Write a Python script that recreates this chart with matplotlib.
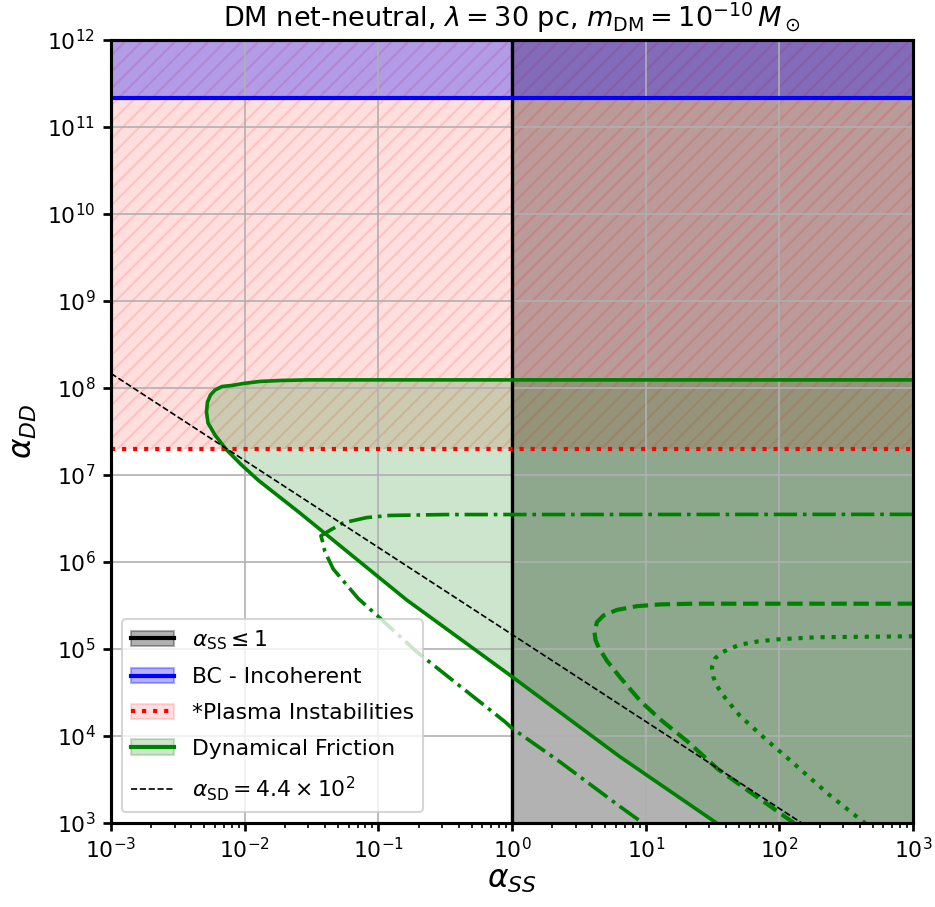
import numpy as np
import matplotlib
matplotlib.use("Agg")
import matplotlib.pyplot as plt
from matplotlib.patches import Patch
from matplotlib.lines import Line2D
from matplotlib.ticker import NullLocator

# limits of the plot
x_lim = [1e-3, 1e3]
y_lim = [1e3, 1e12]

# horizontal / vertical bounds
bc_incoherent = 2.15e11
plasma_limit = 2.0e7
ss_limit = 1.0

# alpha_SD line
sd_x = [1e-3, 1e3]
sd_y = [1.47e8, 1.47e2]

# dynamical friction boundary (solid)
df_x = [1e3, 3.0e-2, 1.84e-2, 1.30e-2, 9.89e-3, 8.03e-3, 6.76e-3, 6.0e-3, 5.55e-3,
        5.27e-3, 5.18e-3, 5.32e-3, 6.0e-3, 7.33e-3, 9.5e-3, 1.265e-2, 2.59e-2,
        6.31e-2, 1.63e-1, 3.98e-1, 1.0, 6.41, 33.9, 63.0]
df_y = [1.24e8, 1.24e8, 1.22e8, 1.19e8, 1.13e8, 1.07e8, 1.04e8, 9.48e7, 8.32e7,
        6.90e7, 5.30e7, 3.96e7, 2.88e7, 1.94e7, 1.30e7, 8.7e6, 3.66e6,
        1.2e6, 3.66e5, 1.35e5, 4.81e4, 5.78e3, 1.0e3, 5.25e2]

# dash-dot curve
dd_x = [1e3, 0.316, 0.122, 0.0817, 0.0546, 0.044, 0.0372, 0.0383, 0.0398, 0.046,
        0.0708, 0.1028, 0.193, 0.885, 1.0, 2.28, 6.41, 9.7, 15.8]
dd_y = [3.53e6, 3.51e6, 3.43e6, 3.24e6, 2.82e6, 2.34e6, 2.0e6, 1.71e6, 1.32e6, 8.3e5,
        3.8e5, 2.27e5, 9.33e4, 1.46e4, 1.23e4, 5.05e3, 1.55e3, 9.8e2, 5.9e2]

# dashed curve
da_x = [1e3, 23.1, 13.0, 8.65, 6.11, 4.84, 4.32, 4.14, 4.22, 4.45, 5.14, 6.47, 9.16,
        12.97, 20.6, 34.8, 65.8, 131.5]
da_y = [3.32e5, 3.32e5, 3.26e5, 3.11e5, 2.82e5, 2.43e5, 2.04e5, 1.556e5, 1.26e5,
        1.04e5, 7.29e4, 4.68e4, 2.51e4, 1.535e4, 8.63e3, 4.15e3, 2.07e3, 9.77e2]

# dotted curve
do_x = [1e3, 398, 189.7, 134.6, 96.8, 69.8, 50.7, 43.4, 37.3, 33.1, 31.3, 32.0, 34.0,
        37.2, 41.2, 45.7, 50.7, 79.4, 119.7, 236.6, 444.6]
do_y = [1.40e5, 1.38e5, 1.365e5, 1.327e5, 1.291e5, 1.225e5, 1.122e5, 1.019e5, 9.16e4,
        7.82e4, 6.17e4, 4.81e4, 3.83e4, 3.06e4, 2.52e4, 2.06e4, 1.71e4, 9.12e3, 5.3e3,
        2.1e3, 9.77e2]

fig = plt.figure(figsize=(935 / 150, 907 / 150), dpi=150)
ax = fig.add_axes([0.1187, 0.0926, 0.8578, 0.8633])
ax.set_xscale('log')
ax.set_yscale('log')

# alpha_SS >= 1 region
ax.axvspan(ss_limit, x_lim[1], color='k', alpha=0.3, lw=0)
ax.axvline(ss_limit, color='k', lw=1.6)

# plasma instabilities
ax.axhspan(plasma_limit, y_lim[1], color='red', alpha=0.13, hatch='///', lw=0)
ax.axhline(plasma_limit, color='red', ls=':', lw=2)

# bullet cluster
ax.axhspan(bc_incoherent, y_lim[1], color='blue', alpha=0.3, lw=0)
ax.axhline(bc_incoherent, color='blue', lw=2)

# dynamical friction
ax.fill(np.append(df_x, x_lim[1]), np.append(df_y, df_y[-1]), color='green', alpha=0.2, lw=0)
ax.plot(df_x, df_y, color='green', lw=1.75)
ax.plot(dd_x, dd_y, color='green', lw=1.75, ls='-.')
ax.plot(da_x, da_y, color='green', lw=2, ls='--')
ax.plot(do_x, do_y, color='green', lw=2, ls=':')

ax.plot(sd_x, sd_y, color='k', lw=0.8, ls='--')

ax.set_xlim(x_lim)
ax.set_ylim(y_lim)
ax.yaxis.set_minor_locator(NullLocator())
ax.grid(True)
for s in ax.spines.values():
    s.set_linewidth(1.5)
ax.tick_params(which='major', labelsize=10.5, width=1.3, length=4)
ax.tick_params(axis='x', which='major', pad=2.5)
ax.tick_params(which='minor', width=0.8, length=2.5)

ax.set_xlabel(r'$\alpha_{SS}$', fontsize=15, labelpad=2)
ax.set_ylabel(r'$\alpha_{DD}$', fontsize=15)
ax.set_title(r'DM net-neutral, $\lambda = 30$ pc, $m_{\rm DM} = 10^{-10}\,M_\odot$', fontsize=13)

handles = [
    (Patch(color='k', alpha=0.3), Line2D([], [], color='k', lw=2)),
    (Patch(color='blue', alpha=0.3), Line2D([], [], color='blue', lw=2)),
    (Patch(color='red', alpha=0.13), Line2D([], [], color='red', lw=2, ls=':')),
    (Patch(color='green', alpha=0.2), Line2D([], [], color='green', lw=2)),
    Line2D([], [], color='k', lw=0.8, ls='--'),
]
labels = [r'$\alpha_{\rm SS} \leq 1$', 'BC - Incoherent', '*Plasma Instabilities',
          'Dynamical Friction', r'$\alpha_{\rm SD} = 4.4 \times 10^{2}$']
ax.legend(handles, labels, loc='lower left', fontsize=10.5, labelspacing=0.72)

fig.savefig('out.png', dpi=150)
